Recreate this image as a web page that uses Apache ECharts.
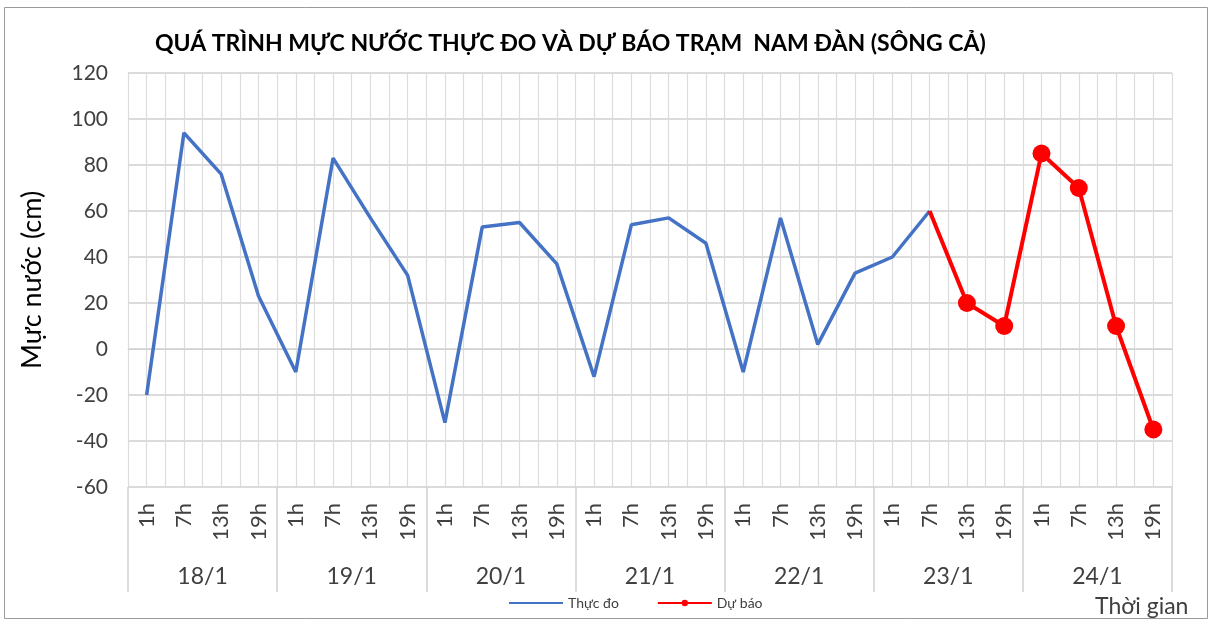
<!DOCTYPE html>
<html>
<head>
<meta charset="utf-8">
<script src="https://cdn.jsdelivr.net/npm/echarts@6/dist/echarts.min.js"></script>
<style>
  html, body { margin: 0; padding: 0; background: #fff; }
  #chart { width: 1214px; height: 624px; }
</style>
</head>
<body>
<div id="chart"></div>
<script>
// nhãn trục
var days = ['18/1', '19/1', '20/1', '21/1', '22/1', '23/1', '24/1'];
var hours = ['1h', '7h', '13h', '19h'];

// mực nước thực đo (18/1 1h -> 23/1 7h)
var thucDo = [-20, 94, 76, 23, -10, 83, 57, 32, -32, 53, 55, 37, -12, 54, 57, 46, -10, 57, 2, 33, 40, 60];
// mực nước dự báo (23/1 7h -> 24/1 19h)
var duBao = [60, 20, 10, 85, 70, 10, -35];

var categories = [];
for (var d = 0; d < days.length; d++) {
    for (var h = 0; h < hours.length; h++) {
        categories.push(hours[h]);
    }
}

var duBaoData = [];
for (var i = 0; i < categories.length; i++) duBaoData.push('-');
var start = thucDo.length - 1;
for (var j = 0; j < duBao.length; j++) {
    // điểm nối đầu tiên không có marker
    duBaoData[start + j] = j == 0 ? {value: duBao[j], symbol: 'none'} : duBao[j];
}

var font = 'Lato';
var txt = '#404040';

var option = {
    animation: false,
    textStyle: {fontFamily: font},
    title: [{
        text: 'QUÁ TRÌNH MỰC NƯỚC THỰC ĐO VÀ DỰ BÁO TRẠM  NAM ĐÀN (SÔNG CẢ)',
        left: 150,
        top: 27,
        textStyle: {fontFamily: font, fontSize: 23, fontWeight: 'bold', color: '#000'}
    }, {
        text: 'Thời gian',
        left: 1090,
        top: 590,
        textStyle: {fontFamily: font, fontSize: 23, fontWeight: 'normal', color: txt}
    }],
    graphic: [{
        type: 'rect',
        shape: {x: 4.5, y: 7.5, width: 1203, height: 611},
        style: {fill: 'none', stroke: '#9a9a9a', lineWidth: 1},
        silent: true
    }],
    legend: {
        left: 503,
        top: 591,
        itemWidth: 54,
        itemHeight: 8,
        itemGap: 38,
        textStyle: {fontFamily: font, fontSize: 14, color: txt},
        data: [{name: 'Thực đo', itemStyle: {opacity: 0}}, 'Dự báo']
    },
    grid: {left: 128, right: 42, top: 73, bottom: 137},
    xAxis: [{
        type: 'category',
        data: categories,
        boundaryGap: true,
        axisLine: {show: true, lineStyle: {color: '#d0d0d0', width: 1}},
        axisTick: {show: false},
        axisLabel: {rotate: 90, fontSize: 22, color: txt, margin: 16, interval: 0},
        splitLine: {show: false}
    }, {
        type: 'category',
        data: days,
        position: 'bottom',
        boundaryGap: true,
        axisLine: {show: false},
        axisTick: {show: true, length: 105, lineStyle: {color: '#d0d0d0', width: 1.5}},
        axisLabel: {fontSize: 23, color: txt, margin: 78, interval: 0},
        splitLine: {show: false}
    }, {
        // lưới dọc (major + minor như Excel)
        type: 'value',
        min: -0.5,
        max: 27.5,
        interval: 0.5,
        show: true,
        axisLine: {show: false},
        axisTick: {show: false},
        axisLabel: {show: false},
        splitLine: {show: true, lineStyle: {color: '#dcdcdc', width: 1.2}}
    }],
    yAxis: {
        type: 'value',
        min: -60,
        max: 120,
        interval: 20,
        name: 'Mực nước (cm)',
        nameLocation: 'middle',
        nameGap: 82,
        nameTextStyle: {fontFamily: font, fontSize: 27, color: '#000'},
        axisLine: {show: false},
        axisTick: {show: false},
        axisLabel: {fontSize: 21, color: txt, margin: 20},
        splitLine: {lineStyle: {color: '#cfcfcf', width: 1.5}}
    },
    series: [{
        name: 'Thực đo',
        type: 'line',
        xAxisIndex: 0,
        data: thucDo,
        symbol: 'none',
        color: '#4472C4',
        lineStyle: {width: 3.5, color: '#4472C4'},
        z: 3
    }, {
        name: 'Dự báo',
        type: 'line',
        xAxisIndex: 0,
        data: duBaoData,
        symbol: 'circle',
        symbolSize: 18,
        showAllSymbol: true,
        color: '#FF0000',
        itemStyle: {color: '#FF0000'},
        lineStyle: {width: 4, color: '#FF0000'},
        z: 4
    }]
};

var myChart = echarts.init(document.getElementById('chart'));
myChart.setOption(option);
</script>
</body>
</html>
